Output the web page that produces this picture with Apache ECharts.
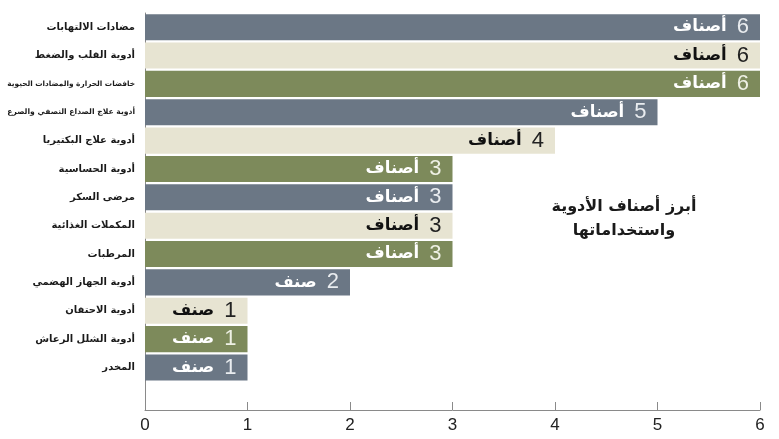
<!DOCTYPE html>
<html>
<head>
<meta charset="utf-8">
<script src="https://cdn.jsdelivr.net/npm/echarts@6/dist/echarts.min.js"></script>
<style>
  html, body { margin: 0; padding: 0; background: #fff; }
  #chart { width: 779px; height: 439px; }
</style>
</head>
<body>
<div id="chart"></div>
<script>
// categories top to bottom
const categories = [
  'مضادات الالتهابات',
  'أدوية القلب والضغط',
  'خافضات الحرارة والمضادات الحيوية',
  'أدوية علاج الصداع النصفي والصرع',
  'أدوية علاج البكتيريا',
  'أدوية الحساسية',
  'مرضى السكر',
  'المكملات الغذائية',
  'المرطبات',
  'أدوية الجهاز الهضمي',
  'أدوية الاحتقان',
  'أدوية الشلل الرعاش',
  'المخدر'
];
const counts = [6, 6, 6, 5, 4, 3, 3, 3, 3, 2, 1, 1, 1];
const units = ['أصناف', 'أصناف', 'أصناف', 'أصناف', 'أصناف', 'أصناف', 'أصناف', 'أصناف', 'أصناف', 'صنف', 'صنف', 'صنف', 'صنف'];
const xTicks = [0, 1, 2, 3, 4, 5, 6];
const titleText = 'أبرز أصناف الأدوية\nواستخداماتها';

// gray, beige, green repeating
const palette = [
  {bar: '#6b7785', num: '#e9ecef', word: '#ffffff'},
  {bar: '#e7e4d2', num: '#222222', word: '#111111'},
  {bar: '#7d8a5b', num: '#eef0e4', word: '#ffffff'}
];

const arabicFont = 'DejaVu Sans';
const labelSize = 10;
const labelMaxW = 128;

// shrink the long category names so they fit left of the axis
const ctx = document.createElement('canvas').getContext('2d');
const labelRich = {};
categories.forEach((c, i) => {
  ctx.font = 'bold ' + labelSize + 'px "' + arabicFont + '"';
  const w = ctx.measureText(c).width;
  const size = w > labelMaxW ? labelSize * labelMaxW / w : labelSize;
  labelRich['s' + i] = {fontSize: size, fontWeight: 'bold', fontFamily: arabicFont, color: '#1a1a1a'};
});

// one empty slot at the bottom leaves the gap above the x axis
const yCats = categories.concat(['']);

const barData = counts.map((v, i) => {
  const p = palette[i % 3];
  return {
    value: v,
    itemStyle: {color: p.bar},
    label: {
      rich: {
        w: {fontFamily: arabicFont, fontWeight: 'bold', fontSize: 16.5, color: p.word},
        n: {fontFamily: 'Liberation Sans', fontWeight: 'normal', fontSize: 22, color: p.num}
      }
    }
  };
});

const myChart = echarts.init(document.getElementById('chart'));

const option = {
  animation: false,
  title: {
    text: titleText,
    left: 619,
    top: 190,
    textAlign: 'center',
    textStyle: {
      fontFamily: arabicFont,
      fontWeight: 'bold',
      fontSize: 16,
      lineHeight: 24,
      color: '#1a1a1a',
      align: 'center'
    }
  },
  grid: {
    left: 145,
    right: 19,
    top: 13,
    bottom: 29,
    containLabel: false,
    outerBoundsMode: 'none'
  },
  xAxis: {
    type: 'value',
    min: 0,
    max: 6,
    interval: 1,
    splitLine: {show: false},
    axisLine: {show: true, lineStyle: {color: '#8a8a8a', width: 1}},
    axisTick: {show: true, inside: true, length: 8, lineStyle: {color: '#8a8a8a'}},
    axisLabel: {
      margin: 7,
      fontSize: 17,
      color: '#222',
      fontFamily: 'Liberation Sans',
      formatter: v => xTicks.includes(v) ? String(v) : ''
    }
  },
  yAxis: {
    type: 'category',
    inverse: true,
    data: yCats,
    axisLine: {show: true, lineStyle: {color: '#8a8a8a', width: 1}},
    axisTick: {show: false},
    axisLabel: {
      margin: 10,
      rich: labelRich,
      formatter: (v, i) => v ? '{s' + i + '|' + v + '}' : ''
    }
  },
  series: [{
    type: 'bar',
    data: barData,
    barCategoryGap: '8%',
    label: {
      show: true,
      position: 'insideRight',
      distance: 11,
      formatter: p => '{w|' + units[p.dataIndex] + '}   {n|' + counts[p.dataIndex] + '}'
    }
  }]
};

myChart.setOption(option);
</script>
</body>
</html>
